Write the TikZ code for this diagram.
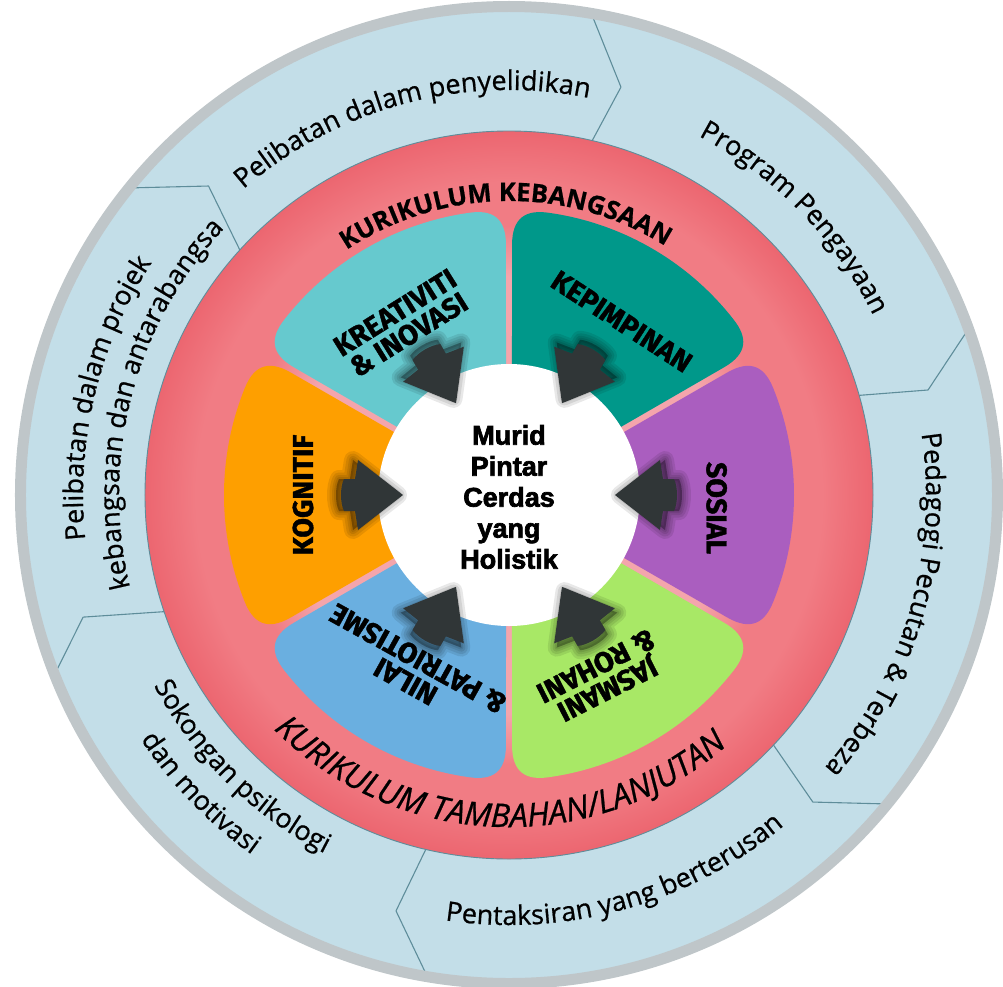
\documentclass[tikz,border=0pt]{standalone}
\usepackage{fontspec}
\setmainfont{Open Sans}
\newfontfamily\ringfont{Open Sans}[FakeBold=0.7]
\newfontfamily\petalfont{Fira Sans}[FakeBold=1.4]
\newfontfamily\ctrfont{Liberation Sans}[FakeBold=2.6]
\usetikzlibrary{decorations.text}
\definecolor{outerblue}{HTML}{C3DEE8}
\definecolor{greyring}{HTML}{BFC6C9}
\definecolor{sepcol}{HTML}{5E8D9A}
\definecolor{ringdark}{HTML}{EC6670}
\definecolor{ringlight}{HTML}{F17C84}
\definecolor{gappink}{HTML}{F4A5AC}
\definecolor{krecol}{HTML}{66C9CE}
\definecolor{kepcol}{HTML}{00988A}
\definecolor{soscol}{HTML}{AA5EBF}
\definecolor{jascol}{HTML}{A8E866}
\definecolor{nilcol}{HTML}{6AAFE0}
\definecolor{kogcol}{HTML}{FE9F00}
\definecolor{arrowcol}{HTML}{303637}
\pgfdeclareradialshading{ringshade}{\pgfpoint{0bp}{0bp}}{color(0bp)=(gappink); color(15bp)=(gappink); color(18.5bp)=(ringlight); color(21.5bp)=(ringlight); color(25bp)=(ringdark); color(50bp)=(ringdark)}
\newcommand\otxt{\ringfont\fontsize{27}{30}\selectfont}
\newcommand\rtxt{\ringfont\bfseries\fontsize{25.5}{30}\selectfont}
\newcommand\rtxti{\ringfont\itshape\fontsize{32.5}{34}\selectfont}
\newcommand\arrowpath{(106,0) -- (151,35) -- (154,16) -- (165,16) .. controls (169,8) and (169,-8) .. (165,-16) -- (154,-16) -- (151,-35) -- cycle}
\tikzset{
  petaltxt/.style={font=\petalfont\bfseries\fontsize{28.5}{26}\selectfont, align=center, text=black, inner sep=0pt},
  arctext/.style={decorate, decoration={text along path, text align=center, text={#1}}},
  sepline/.style={draw=sepcol, line width=1.1, line join=round},
  shadowlayer/.style={draw=black, fill=black, line join=round, opacity=0.09, line width=#1},
  arrowshape/.pic={
    \begin{scope}[xshift=5]
      \foreach \w in {18,13,8,4} { \path[shadowlayer=\w] \arrowpath; }
    \end{scope}
    \fill[arrowcol] \arrowpath;
  }
}
\begin{document}
\begin{tikzpicture}[x=1pt,y=1pt]
\useasboundingbox (-509,-491) rectangle (494,495);
\clip (-509,-491) rectangle (494,495);
% outer band
\fill[outerblue] (0,0) circle (484);
\draw[sepline] (80.4:490) -- (74.65:423) -- (77.4:350);
\draw[sepline] (20.0:490) -- (14.07:432) -- (16.35:350);
\draw[sepline] (-39.1:490) -- (-45.3:432) -- (-42.9:350);
\draw[sepline] (-99.5:490) -- (-105.2:431) -- (-102.7:350);
\draw[sepline] (201.7:490) -- (196.0:443) -- (199.3:350);
\draw[sepline] (141.2:490) -- (134.2:431) -- (138.6:350);
\draw[greyring, line width=11] (0,0) circle (488.5);
% red ring
\shade[shading=ringshade] (0,0) circle (364);
\draw[sepcol, line width=0.9] (0,0) circle (364);
% petals
\foreach \a/\c in {180/kogcol, 120/krecol, 60/kepcol, 0/soscol, -60/jascol, -120/nilcol} {
  \fill[\c] ({\a-30+1.7}:100) -- ({\a-30+0.7}:250)
    .. controls ({\a-30+0.62}:278) and ({\a-26.5}:286) .. ({\a-22}:285)
    arc[start angle=\a-22, end angle=\a+22, radius=285]
    .. controls ({\a+26.5}:286) and ({\a+30-0.62}:278) .. ({\a+30-0.7}:250)
    -- ({\a+30-1.7}:100) -- cycle;
}
% centre
\fill[white] (0,0) circle (131);
\foreach \a in {180,120,60,0,-60,-120} {
  \pic[rotate=\a] {arrowshape};
}
\node[font=\ctrfont\bfseries\fontsize{27}{31}\selectfont, align=center, inner sep=0pt] (ctr) at (0,-2) {Murid\\Pintar\\Cerdas\\yang\\Holistik};
% petal labels
\node[petaltxt, rotate=32] (kre) at (122:202) {KREATIVITI\\{\&} INOVASI};
\node[petaltxt, rotate=-33] (kep) at (57:207) {KEPIMPINAN};
\node[petaltxt, rotate=90] (kog) at (180:206) {KOGNITIF};
\node[petaltxt, rotate=-90] (sos) at (-3.6:208) {SOSIAL};
\node[petaltxt, rotate=151] (nil) at (241:200) {NILAI\\{\&} PATRIOTISME};
\node[petaltxt, rotate=-153] (jas) at (-63:205) {JASMANI\\{\&} ROHANI};
% ring labels
\path[arctext={|\rtxt|KURIKULUM KEBANGSAAN}] (150.7:294) arc[start angle=150.7, end angle=30.7, radius=294];
\path[arctext={|\rtxti|KURIKULUM TAMBAHAN/LANJUTAN}] (198:332) arc[start angle=198, end angle=338, radius=332];
% outer labels
\path[arctext={|\otxt|Pelibatan dalam penyelidikan}] (164.8:405) arc[start angle=164.8, end angle=44.8, radius=405];
\path[arctext={|\otxt|Program Pengayaan}] (104.2:406) arc[start angle=104.2, end angle=-15.8, radius=406];
\path[arctext={|\otxt|Pedagogi Pecutan {\&} Terbeza}] (43.8:417) arc[start angle=43.8, end angle=-76.2, radius=417];
\path[arctext={|\otxt|Pentaksiran yang berterusan}] (-134.4:430) arc[start angle=-134.4, end angle=-14.4, radius=430];
\path[arctext={|\otxt|Sokongan psikologi}] (165.5:403) arc[start angle=165.5, end angle=285.5, radius=403];
\path[arctext={|\otxt|dan motivasi}] (164:442) arc[start angle=164, end angle=284, radius=442];
\path[arctext={|\otxt|Pelibatan dalam projek}] (226.5:426) arc[start angle=226.5, end angle=106.5, radius=426];
\path[arctext={|\otxt|kebangsaan dan antarabangsa}] (225.3:390) arc[start angle=225.3, end angle=105.3, radius=390];
\end{tikzpicture}
\end{document}
